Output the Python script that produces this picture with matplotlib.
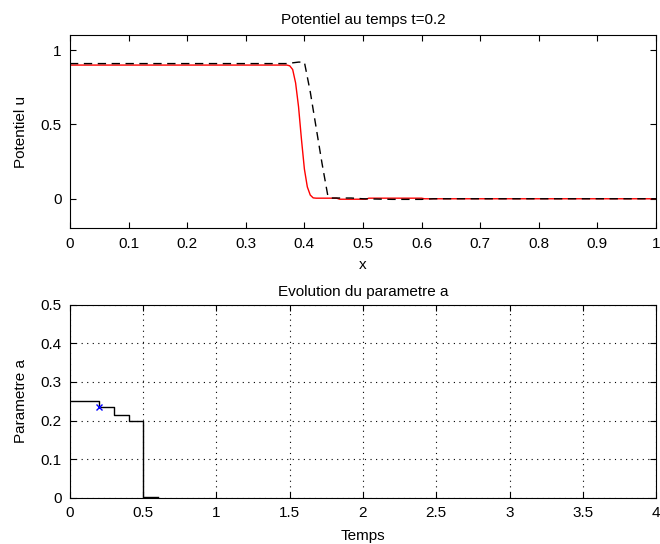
import numpy as np
import matplotlib
matplotlib.use("Agg")
import matplotlib.pyplot as plt

plt.rcParams['font.family'] = ['Liberation Sans', 'DejaVu Sans']
plt.rcParams['font.size'] = 11

# potentiel u(x) at t=0.2 : computed (red) and reference (black dashed)
x_num = [0.0, 0.37, 0.375, 0.38, 0.385, 0.39, 0.395, 0.40, 0.405, 0.41, 0.415,
         0.42, 0.455, 0.46, 0.505, 0.51, 0.60, 0.605, 1.0]
u_num = [0.90, 0.90, 0.895, 0.87, 0.78, 0.62, 0.40, 0.20, 0.08, 0.025, 0.006,
         0.004, 0.004, -0.003, -0.003, 0.004, 0.004, 0.0, 0.0]
x_ref = [0.0, 0.37, 0.39, 0.40, 0.41, 0.42, 0.43, 0.44, 0.445, 0.48, 0.50,
         0.55, 0.60, 0.62, 1.0]
u_ref = [0.91, 0.91, 0.92, 0.92, 0.72, 0.48, 0.24, 0.02, 0.005, 0.005, 0.0,
         -0.004, -0.004, 0.0, 0.0]

# evolution du parametre a
temps = [0.0, 0.2, 0.3, 0.4, 0.5, 0.6]
param_a = [0.25, 0.235, 0.215, 0.2, 0.003, 0.003]
t_mark = [0.2]
a_mark = [0.235]

fig = plt.figure(figsize=(6.6, 5.44), dpi=100)
ax1 = fig.add_axes([0.106, 0.580, 0.888, 0.355])
ax2 = fig.add_axes([0.106, 0.085, 0.888, 0.355])

ax1.plot(x_num, u_num, color='red', lw=1.0)
ax1.plot(x_ref, u_ref, color='black', lw=1.0, ls=(0, (6, 4)))
ax1.set_xlim(0, 1)
ax1.set_ylim(-0.2, 1.1)
ax1.set_xticks(np.arange(0, 1.01, 0.1))
ax1.set_xticklabels(['0', '0.1', '0.2', '0.3', '0.4', '0.5', '0.6', '0.7', '0.8', '0.9', '1'])
ax1.set_yticks([0, 0.5, 1])
ax1.set_yticklabels(['0', '0.5', '1'])
ax1.set_title('Potentiel au temps t=0.2', fontsize=11, pad=8)
ax1.set_xlabel('x', va='center')
ax1.set_ylabel('Potentiel u', va='center')
ax1.xaxis.set_label_coords(0.5, -0.19)
ax1.yaxis.set_label_coords(-0.084, 0.5)

ax2.step(temps, param_a, where='post', color='black', lw=1.0)
ax2.plot(t_mark, a_mark, 'x', color='blue', ms=5, mew=1.0)
ax2.set_xlim(0, 4)
ax2.set_ylim(0, 0.5)
ax2.set_xticks(np.arange(0, 4.01, 0.5))
ax2.set_xticklabels(['0', '0.5', '1', '1.5', '2', '2.5', '3', '3.5', '4'])
ax2.set_yticks(np.arange(0, 0.51, 0.1))
ax2.set_yticklabels(['0', '0.1', '0.2', '0.3', '0.4', '0.5'])
ax2.grid(True, color='black', ls=(0, (1, 4)), lw=0.8)
ax2.set_title('Evolution du parametre a', fontsize=11, pad=6)
ax2.set_xlabel('Temps', va='center')
ax2.set_ylabel('Parametre a', va='center')
ax2.xaxis.set_label_coords(0.5, -0.197)
ax2.yaxis.set_label_coords(-0.084, 0.5)

for ax in (ax1, ax2):
    ax.tick_params(direction='in', top=True, right=True, length=4, width=0.8, labelsize=11)
    ax.tick_params(axis='x', pad=6)
    ax.tick_params(axis='y', pad=6)
    for s in ax.spines.values():
        s.set_linewidth(0.8)

fig.savefig('out.png', dpi=100)
